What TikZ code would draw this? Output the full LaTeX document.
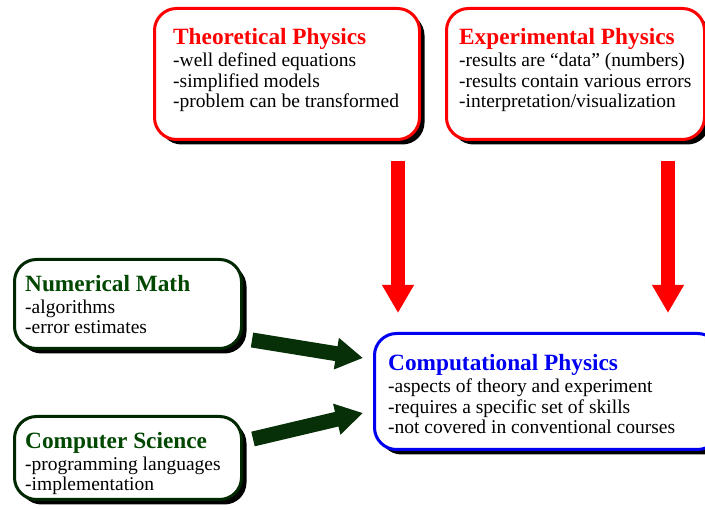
\documentclass[tikz,border=0pt]{standalone}
\usepackage{fontspec}
\setmainfont{Liberation Serif}
\usetikzlibrary{arrows.meta,shadows}
\definecolor{tred}{RGB}{255,0,0}
\definecolor{tblue}{RGB}{0,0,240}
\definecolor{tgreen}{RGB}{0,72,0}
\definecolor{bgreen}{RGB}{0,40,0}
\definecolor{agreen}{RGB}{8,48,8}
\tikzset{
  panel/.style={draw=#1, line width=3pt, rounded corners=22pt, fill=white,
    rectangle, anchor=north west, inner sep=0pt,
    drop shadow={shadow xshift=5pt, shadow yshift=-5pt, fill=black, opacity=1}},
  txt/.style={anchor=base west, align=left, inner sep=0pt,
    font=\fontsize{19.5}{20.5}\selectfont},
  redarrow/.style={draw=tred, line width=14pt, -{Triangle[length=28pt,width=30pt]}},
  grnarrow/.style={draw=agreen, line width=15pt, -{Triangle[length=27pt,width=30pt]}}
}
\newcommand{\ttlred}[1]{{\color{tred}\fontsize{23.3}{22}\selectfont\bfseries #1}}
\newcommand{\ttlgrn}[1]{{\color{tgreen}\fontsize{23.3}{22}\selectfont\bfseries #1}}
\newcommand{\ttlblu}[1]{{\color{tblue}\fontsize{23.3}{22}\selectfont\bfseries #1}}
\begin{document}
\begin{tikzpicture}[x=1pt,y=-1pt]
\useasboundingbox (0,0) rectangle (705,510);
\clip (0,0) rectangle (705,510);
% boxes
\node[panel=tred, minimum width=265pt, minimum height=131pt] (theo) at (153,7) {};
\node[panel=tred, minimum width=258pt, minimum height=131pt] (exp) at (445,7) {};
\node[panel=bgreen, minimum width=227pt, minimum height=89pt] (num) at (13,258) {};
\node[panel=bgreen, minimum width=227pt, minimum height=83pt] (cs) at (13,415) {};
\node[panel=tblue, minimum width=345pt, minimum height=116pt] (comp) at (373,332) {};
% texts (base = baseline of last line)
\node[txt] (theotxt) at (173,108) {\ttlred{Theoretical Physics}\\[1.5pt]
-well defined equations\\-simplified models\\-problem can be transformed};
\node[txt] (exptxt) at (459,108) {\ttlred{Experimental Physics}\\[1.5pt]
-results are “data” (numbers)\\-results contain various errors\\-interpretation/visualization};
\node[txt] (numtxt) at (25,334) {\ttlgrn{Numerical Math}\\[1.5pt]
-algorithms\\-error estimates};
\node[txt] (cstxt) at (25,491) {\ttlgrn{Computer Science}\\[1.5pt]
-programming languages\\-implementation};
\node[txt] (comptxt) at (388,434) {\ttlblu{Computational Physics}\\[1.5pt]
-aspects of theory and experiment\\-requires a specific set of skills\\-not covered in conventional courses};
% arrow anchors
\coordinate (a1) at (398,0);
\coordinate (a2) at (668,0);
\coordinate (g1s) at (252,340);
\coordinate (g1e) at (363,358);
\coordinate (g2s) at (253,439);
\coordinate (g2e) at (363,413);
\draw[redarrow, shorten <=20pt, shorten >=19pt] (theo.south -| a1) -- (comp.north -| a1);
\draw[redarrow, shorten <=20pt, shorten >=19pt] (exp.south -| a2) -- (comp.north -| a2);
\draw[grnarrow] (g1s) -- (g1e);
\draw[grnarrow] (g2s) -- (g2e);
\end{tikzpicture}
\end{document}
